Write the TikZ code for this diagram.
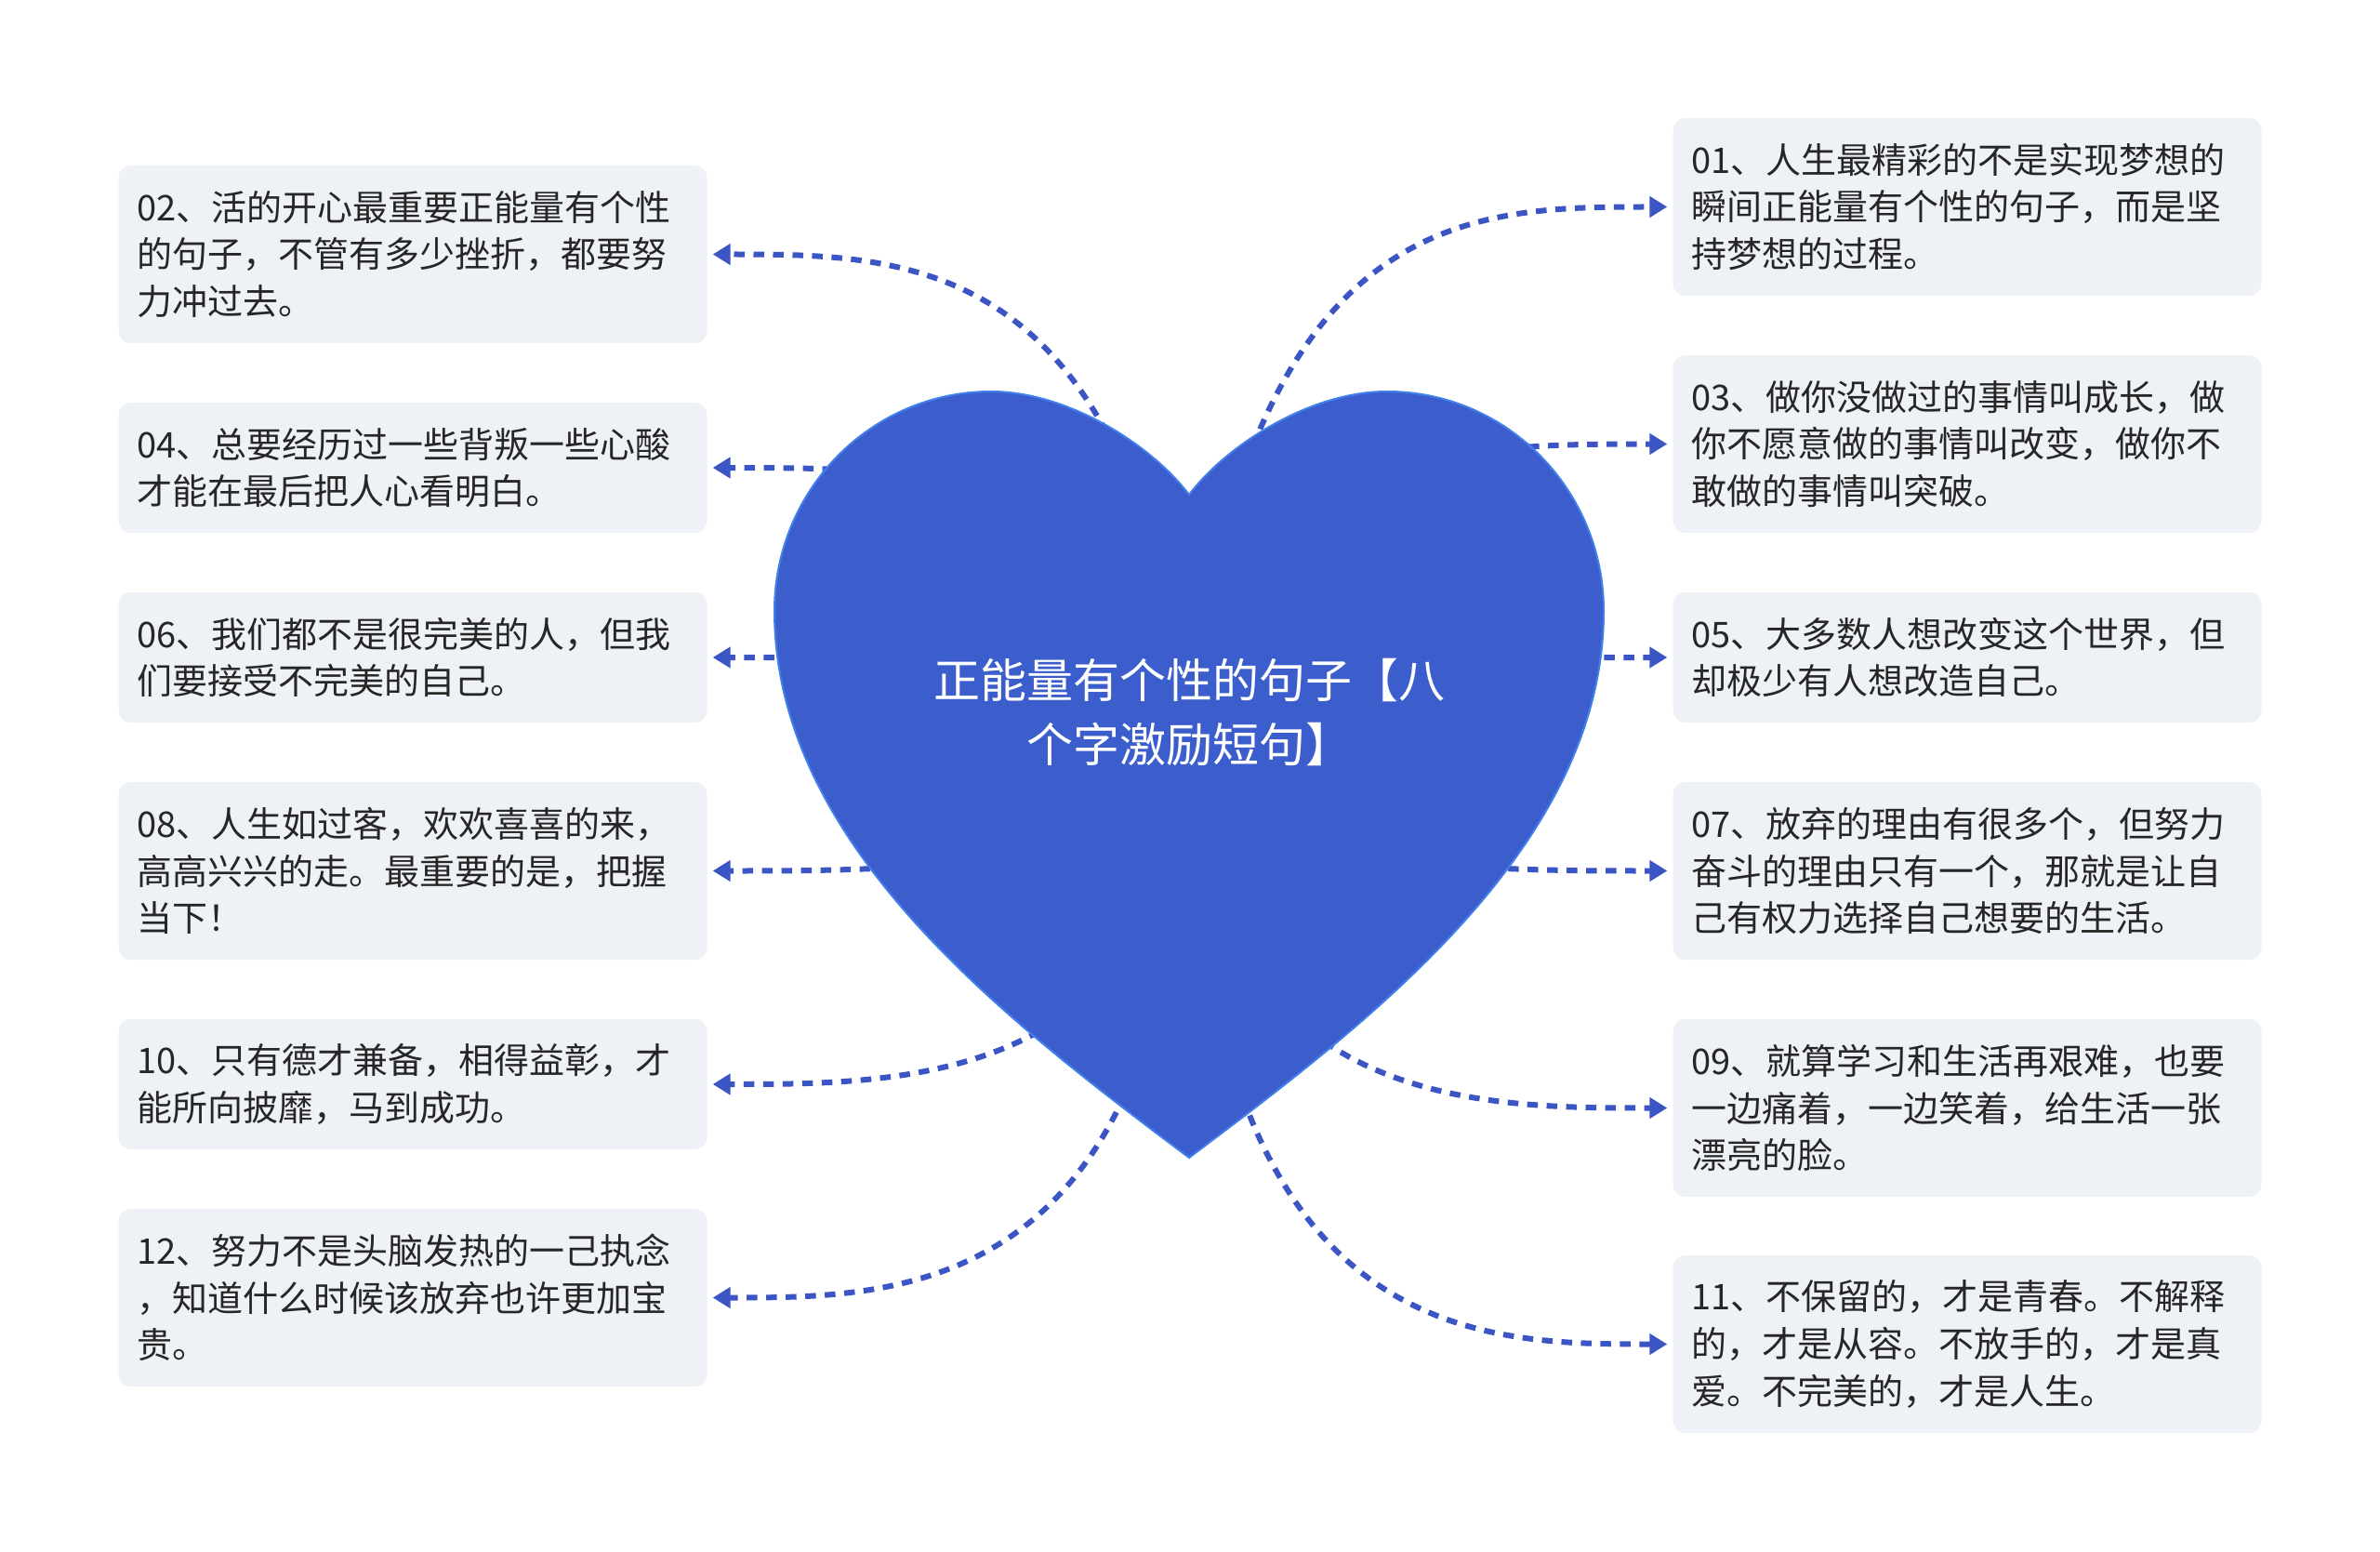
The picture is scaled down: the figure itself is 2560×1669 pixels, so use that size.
\documentclass[tikz,border=0pt]{standalone}
\usepackage{fontspec}
\setmainfont{Noto Sans CJK SC}
\usetikzlibrary{arrows.meta,calc}
\definecolor{heartfill}{RGB}{59,94,204}
\definecolor{heartline}{RGB}{66,128,235}
\definecolor{linkc}{RGB}{59,86,196}
\definecolor{boxgray}{RGB}{238,241,245}
\definecolor{txt}{RGB}{38,38,38}
\tikzset{
  box/.style={fill=boxgray, rounded corners=13pt, minimum width=633pt, text width=593pt,
    inner xsep=20pt, inner ysep=0pt, align=left, text=txt,
    font=\fontsize{38pt}{50.6pt}\selectfont},
  tall/.style={box, minimum height=191pt},
  short/.style={box, minimum height=140pt},
  link/.style={draw=linkc, line width=6pt, dash pattern=on 11.5pt off 9.5pt,
    -{Triangle[length=19pt,width=22pt]}, shorten >=6pt},
  heartshape/.style={fill=heartfill, draw=heartline, line width=2pt}
}
\begin{document}
\begin{tikzpicture}[x=1pt,y=-1pt]
\useasboundingbox[fill=white] (0,0) rectangle (2560,1669);
\coordinate (hc) at (1279,766);
% left boxes
\node[tall]  (b02) at (444,273.5) {02、活的开心最重要正能量有个性\\的句子，不管有多少挫折，都要努\\力冲过去。};
\node[short] (b04) at (444,503)   {04、总要经历过一些背叛一些心酸\\才能在最后把人心看明白。};
\node[short] (b06) at (444,707)   {06、我们都不是很完美的人，但我\\们要接受不完美的自己。};
\node[tall]  (b08) at (444,936.5) {08、人生如过客，欢欢喜喜的来，\\高高兴兴的走。最重要的是，把握\\当下！};
\node[short] (b10) at (444,1166)  {10、只有德才兼备，相得益彰，才\\能所向披靡，马到成功。};
\node[tall]  (b12) at (444,1395.5){12、努力不是头脑发热的一己执念\\，知道什么时候该放弃也许更加宝\\贵。};
% right boxes
\node[tall]  (b01) at (2116,222.5) {01、人生最精彩的不是实现梦想的\\瞬间正能量有个性的句子，而是坚\\持梦想的过程。};
\node[tall]  (b03) at (2116,477.5) {03、做你没做过的事情叫成长，做\\你不愿意做的事情叫改变，做你不\\敢做的事情叫突破。};
\node[short] (b05) at (2116,707)   {05、大多数人想改变这个世界，但\\却极少有人想改造自己。};
\node[tall]  (b07) at (2116,936.5) {07、放弃的理由有很多个，但努力\\奋斗的理由只有一个，那就是让自\\己有权力选择自己想要的生活。};
\node[tall]  (b09) at (2116,1191.5){09、就算学习和生活再艰难，也要\\一边痛着，一边笑着，给生活一张\\漂亮的脸。};
\node[tall]  (b11) at (2116,1445.5){11、不保留的，才是青春。不解释\\的，才是从容。不放手的，才是真\\爱。不完美的，才是人生。};
% connectors (drawn under the heart)
\draw[link] (hc) .. controls ($(hc|-b02.east)+(-72,0)$) and ($(b02.east)+(218,0)$) .. (b02.east);
\draw[link] (hc) .. controls ($(hc|-b04.east)+(-72,0)$) and ($(b04.east)+(218,0)$) .. (b04.east);
\draw[link] (hc) .. controls (hc|-b06.east) and ($(b06.east)+(218,0)$) .. (b06.east);
\draw[link] (hc) .. controls (hc|-b08.east) and ($(b08.east)+(218,0)$) .. (b08.east);
\draw[link] (hc) .. controls (hc|-b10.east) and ($(b10.east)+(218,0)$) .. (b10.east);
\draw[link] (hc) .. controls (hc|-b12.east) and ($(b12.east)+(218,0)$) .. (b12.east);
\draw[link] (hc) .. controls ($(hc|-b01.west)+(72,0)$) and ($(b01.west)+(-218,0)$) .. (b01.west);
\draw[link] (hc) .. controls ($(hc|-b03.west)+(72,0)$) and ($(b03.west)+(-218,0)$) .. (b03.west);
\draw[link] (hc) .. controls (hc|-b05.west) and ($(b05.west)+(-218,0)$) .. (b05.west);
\draw[link] (hc) .. controls (hc|-b07.west) and ($(b07.west)+(-218,0)$) .. (b07.west);
\draw[link] (hc) .. controls (hc|-b09.west) and ($(b09.west)+(-218,0)$) .. (b09.west);
\draw[link] (hc) .. controls (hc|-b11.west) and ($(b11.west)+(-218,0)$) .. (b11.west);
% heart
\draw[heartshape] (1279,532)
  .. controls (1240,480) and (1150,421) .. (1066,421)
  .. controls (937,421) and (833,527) .. (833,657)
  .. controls (833,907) and (1079,1095) .. (1279,1245)
  .. controls (1479,1095) and (1725,907) .. (1725,657)
  .. controls (1725,527) and (1621,421) .. (1492,421)
  .. controls (1408,421) and (1318,480) .. (1279,532) -- cycle;
\node[text=white, align=center, font=\fontsize{50pt}{68.6pt}\selectfont] (title) at (hc) {正能量有个性的句子【八\\个字激励短句】};
\end{tikzpicture}
\end{document}
